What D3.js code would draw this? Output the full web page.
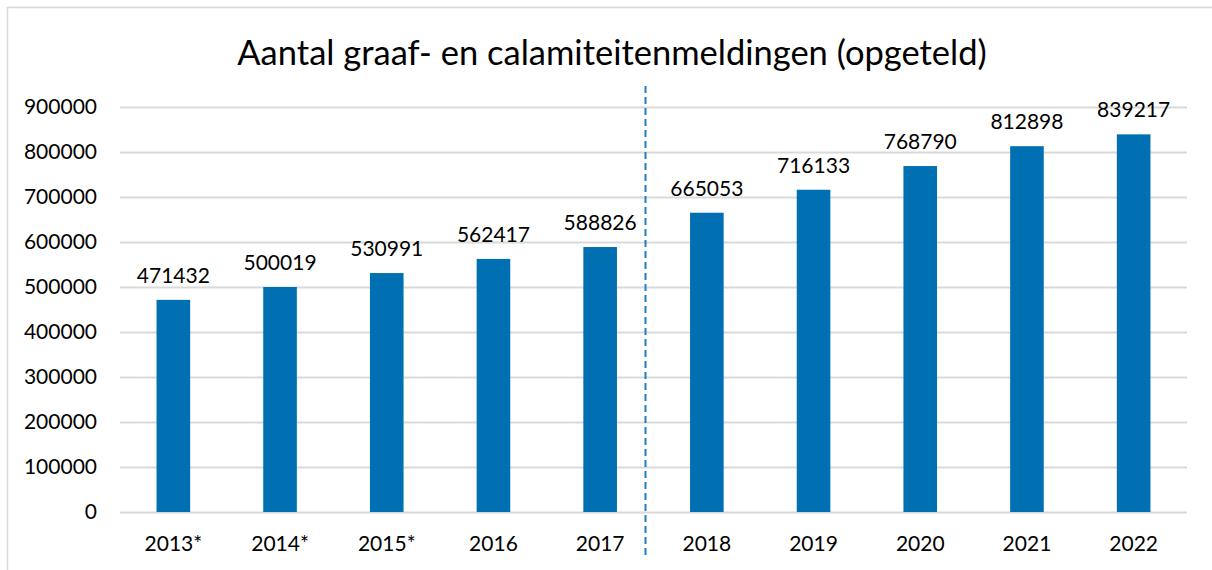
<!DOCTYPE html>
<html><head><meta charset="utf-8">
<script src="https://cdn.jsdelivr.net/npm/d3@7"></script>
<style>
html,body{margin:0;padding:0;background:#fff;}
svg{display:block;font-family:Lato,"Open Sans",sans-serif;}
</style></head>
<body>
<svg id="c" width="1212" height="570"></svg>
<script>
const title = "Aantal graaf- en calamiteitenmeldingen (opgeteld)";
const categories = ["2013*","2014*","2015*","2016","2017","2018","2019","2020","2021","2022"];
const values = [471432,500019,530991,562417,588826,665053,716133,768790,812898,839217];
const yTicks = [0,100000,200000,300000,400000,500000,600000,700000,800000,900000];
const dividerAfter = "2017";

const svg = d3.select("#c");
const W = 1212, H = 570;
const m = {left:120, right:25, top:107, bottom:57};

svg.append("rect").attr("x",7.5).attr("y",7.5).attr("width",W+10).attr("height",H+10)
  .attr("fill","#fff").attr("stroke","#d9d9d9").attr("stroke-width",1.5);

const x = d3.scaleBand().domain(categories).range([m.left, W-m.right]).paddingInner(0.685).paddingOuter(0.3425);
const y = d3.scaleLinear().domain([0,900000]).range([H-m.bottom-1, m.top]);

const yAxis = svg.append("g").attr("transform",`translate(${m.left},0)`)
  .call(d3.axisLeft(y).tickValues(yTicks).tickSize(-(W-m.right-m.left)).tickPadding(23).tickFormat(d3.format("d")));
yAxis.select(".domain").remove();
yAxis.selectAll(".tick line").attr("stroke","#d9d9d9").attr("stroke-width",2);
yAxis.selectAll(".tick text").attr("font-size",21).attr("fill","#000").attr("font-family","Lato");

svg.append("g").selectAll("rect").data(values).join("rect")
  .attr("x",(d,i)=>x(categories[i]))
  .attr("width",x.bandwidth())
  .attr("y",d=>y(d))
  .attr("height",d=>y(0)-y(d))
  .attr("fill","#0070b3");

svg.append("g").selectAll("text").data(values).join("text")
  .attr("x",(d,i)=>x(categories[i])+x.bandwidth()/2)
  .attr("y",d=>y(d)-17)
  .attr("text-anchor","middle").attr("font-size",21).attr("fill","#000")
  .text(d=>d);

const xAxis = svg.append("g").attr("transform",`translate(0,${y(0)})`)
  .call(d3.axisBottom(x).tickSize(0).tickPadding(24));
xAxis.select(".domain").remove();
xAxis.selectAll(".tick text").attr("font-size",21).attr("fill","#000").attr("font-family","Lato");

const step = x.step();
const dx = x(dividerAfter) + x.bandwidth()/2 + step/2 - 8;
svg.append("line").attr("x1",dx).attr("x2",dx).attr("y1",86).attr("y2",557)
  .attr("stroke","#1f7fc4").attr("stroke-width",2).attr("stroke-dasharray","7,4");

svg.append("text").attr("x",612).attr("y",65).attr("text-anchor","middle")
  .attr("font-size",34.5).attr("fill","#000").text(title);
</script>
</body></html>
